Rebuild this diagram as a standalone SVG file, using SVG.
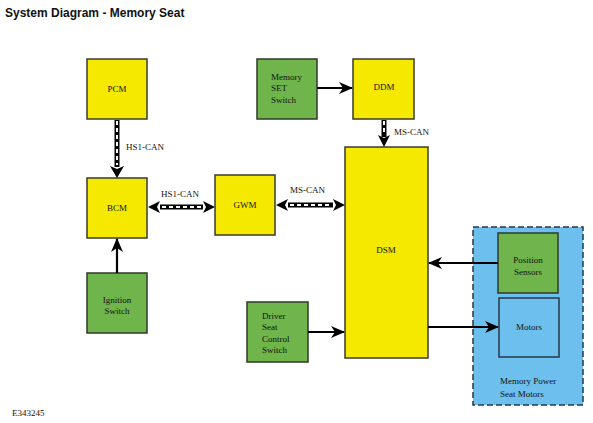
<svg xmlns="http://www.w3.org/2000/svg" width="593" height="423" viewBox="0 0 593 423">
<style>
.y{fill:#f6e900;stroke:#3a3a2a;stroke-width:1.5}
.g{fill:#70b54b;stroke:#2f3a2a;stroke-width:1.5}
.b{fill:#6dc0ee;stroke:#26384a;stroke-width:1.5}
text{font-family:"Liberation Serif","Times New Roman",serif;font-size:9px;fill:#111}
.c{text-anchor:middle}
.can{stroke:#000;stroke-width:5;fill:none}
.cand{stroke:#fff;stroke-width:2;stroke-dasharray:4 3;fill:none}
.ln{stroke:#000;stroke-width:2.2;fill:none}
</style>
<defs>
<marker id="ah" markerWidth="10" markerHeight="10" refX="9" refY="5" orient="auto-start-reverse" markerUnits="userSpaceOnUse">
<path d="M0,0 L10,5 L0,10 L3,5 Z" fill="#000"/>
</marker>
<marker id="ah2" markerWidth="14" markerHeight="12" refX="13" refY="6" orient="auto-start-reverse" markerUnits="userSpaceOnUse">
<path d="M0,0 L14,6 L0,12 L4,6 Z" fill="#000"/>
</marker>
</defs>
<rect width="593" height="423" fill="#fff"/>
<text x="5" y="17" style="font-family:'Liberation Sans',Arial,sans-serif;font-size:12px;font-weight:bold">System Diagram - Memory Seat</text>

<g id="memory-power-seat-motors">
<rect x="473" y="227" width="110" height="178" fill="#6dc0ee" stroke="#26384a" stroke-width="1.5" stroke-dasharray="6 3"/>
<text x="500" y="384">Memory Power</text>
<text x="500" y="397">Seat Motors</text>
</g>
<g id="pcm"><rect class="y" x="87" y="59" width="60" height="60"/><text class="c" x="117" y="92">PCM</text></g>
<g id="bcm"><rect class="y" x="87" y="178" width="60" height="60"/><text class="c" x="117" y="211">BCM</text></g>
<g id="gwm"><rect class="y" x="215" y="175" width="60" height="60"/><text class="c" x="245" y="208">GWM</text></g>
<g id="ignition-switch"><rect class="g" x="87" y="273" width="60" height="60"/><text class="c" x="117" y="303">Ignition</text><text class="c" x="117" y="314">Switch</text></g>
<g id="memory-set-switch"><rect class="g" x="257" y="59" width="60" height="60"/><text x="271" y="80">Memory</text><text x="271" y="91">SET</text><text x="271" y="103">Switch</text></g>
<g id="ddm"><rect class="y" x="353" y="59" width="61" height="60"/><text class="c" x="384" y="90">DDM</text></g>
<g id="dsm"><rect class="y" x="345" y="147" width="83" height="211"/><text class="c" x="386" y="253">DSM</text></g>
<g id="driver-seat-control-switch"><rect class="g" x="247" y="302" width="61" height="60"/><text x="262" y="319">Driver</text><text x="262" y="330">Seat</text><text x="262" y="342">Control</text><text x="262" y="353">Switch</text></g>
<g id="position-sensors"><rect class="g" x="498" y="233" width="60" height="60"/><text class="c" x="528" y="263">Position</text><text class="c" x="528" y="275">Sensors</text></g>
<g id="motors"><rect class="b" x="499" y="298" width="60" height="59"/><text class="c" x="529" y="330">Motors</text></g>

<g id="connectors">
<line class="can" x1="117" y1="120" x2="117" y2="167"/>
<line class="cand" x1="117" y1="121" x2="117" y2="165"/>
<path d="M110,166 L117,178 L124,166 L117,169 Z" fill="#000"/>
<text x="126" y="150">HS1-CAN</text>

<line class="can" x1="160" y1="207" x2="203" y2="207"/>
<line class="cand" x1="162" y1="207" x2="202" y2="207"/>
<path d="M160,201 L148,207 L160,213 L157,207 Z" fill="#000"/>
<path d="M203,201 L215,207 L203,213 L206,207 Z" fill="#000"/>
<text x="161" y="197">HS1-CAN</text>

<line class="can" x1="288" y1="205" x2="333" y2="205"/>
<line class="cand" x1="290" y1="205" x2="332" y2="205"/>
<path d="M288,199 L276,205 L288,211 L285,205 Z" fill="#000"/>
<path d="M333,199 L345,205 L333,211 L336,205 Z" fill="#000"/>
<text x="290" y="193">MS-CAN</text>

<line class="can" x1="384" y1="120" x2="384" y2="137"/>
<line class="cand" x1="384" y1="121" x2="384" y2="135"/>
<path d="M378,135 L384,147 L390,135 L384,138 Z" fill="#000"/>
<text x="394" y="135">MS-CAN</text>

<line class="ln" x1="317" y1="88" x2="352" y2="88" marker-end="url(#ah2)"/>
<line class="ln" x1="117" y1="273" x2="117" y2="239" marker-end="url(#ah2)"/>
<line class="ln" x1="308" y1="332" x2="344" y2="332" marker-end="url(#ah2)"/>
<line class="ln" x1="498" y1="263" x2="429" y2="263" marker-end="url(#ah2)"/>
<line class="ln" x1="428" y1="327" x2="498" y2="327" marker-end="url(#ah2)"/>
</g>
<text x="12" y="416">E343245</text>
</svg>
